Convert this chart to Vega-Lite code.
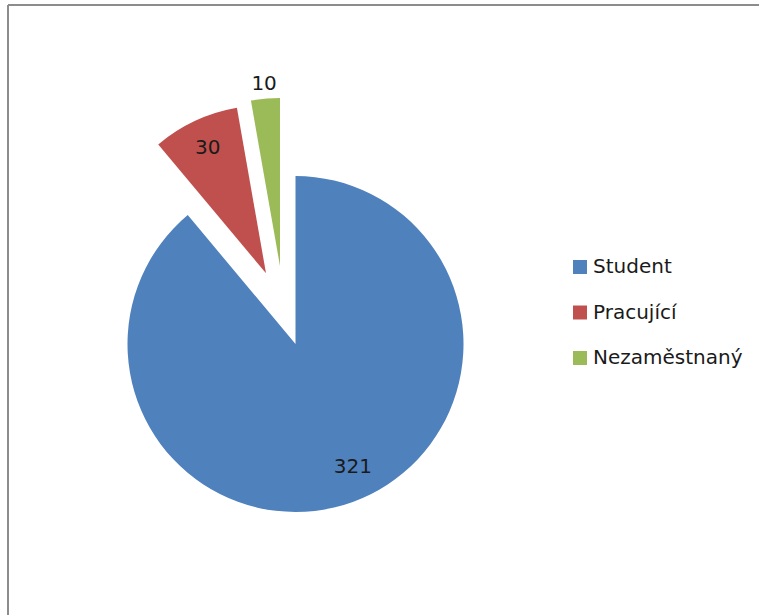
{
  "$schema": "https://vega.github.io/schema/vega-lite/v6.json",
  "width": 760,
  "height": 610,
  "autosize": {"type": "none"},
  "padding": {"left": 8, "top": 5, "right": -9, "bottom": 0},
  "background": "white",
  "view": {"stroke": "#8c8c8c", "strokeWidth": 2, "strokeDash": [760, 1370, 610, 0]},
  "config": {
    "font": "DejaVu Sans",
    "view": {"stroke": "#8c8c8c", "strokeWidth": 2, "strokeDash": [760, 1370, 610, 0]}
  },
  "data": {
    "values": [
      {"category": "Student", "value": 321},
      {"category": "Pracující", "value": 30},
      {"category": "Nezaměstnaný", "value": 10}
    ]
  },
  "encoding": {
    "theta": {"field": "value", "type": "quantitative", "stack": true},
    "order": {"field": "value", "type": "quantitative", "sort": "descending"},
    "color": {
      "field": "category",
      "type": "nominal",
      "scale": {
        "domain": ["Student", "Pracující", "Nezaměstnaný"],
        "range": ["#4F81BD", "#C0504D", "#9BBB59"]
      },
      "legend": {
        "title": null,
        "orient": "none",
        "legendX": 562,
        "legendY": 252,
        "padding": 0,
        "symbolType": "square",
        "symbolSize": 196,
        "symbolStrokeWidth": 0,
        "labelFont": "DejaVu Sans",
        "labelFontSize": 20,
        "labelColor": "#1a1a1a",
        "labelLimit": 300,
        "labelOffset": 3,
        "rowPadding": 25.5
      }
    }
  },
  "layer": [
    {
      "mark": {"type": "arc", "outerRadius": 168, "xOffset": -92.5, "yOffset": 34},
      "encoding": {"opacity": {"condition": {"test": "datum.category === 'Student'", "value": 1}, "value": 0}}
    },
    {
      "mark": {"type": "arc", "outerRadius": 168, "xOffset": -122, "yOffset": -36.7},
      "encoding": {"opacity": {"condition": {"test": "datum.category === 'Pracující'", "value": 1}, "value": 0}}
    },
    {
      "mark": {"type": "arc", "outerRadius": 168, "xOffset": -108, "yOffset": -44},
      "encoding": {"opacity": {"condition": {"test": "datum.category === 'Nezaměstnaný'", "value": 1}, "value": 0}}
    },
    {
      "mark": {"type": "text", "radius": 136, "xOffset": -92.5, "yOffset": 34, "dx": 11, "dy": -5, "fontSize": 20, "font": "DejaVu Sans", "align": "center", "baseline": "middle"},
      "encoding": {
        "text": {"field": "value", "type": "quantitative"},
        "color": {"value": "#1a1a1a"},
        "opacity": {"condition": {"test": "datum.category === 'Student'", "value": 1}, "value": 0}
      }
    },
    {
      "mark": {"type": "text", "radius": 138, "xOffset": -122, "yOffset": -36.7, "fontSize": 20, "font": "DejaVu Sans", "align": "center", "baseline": "middle"},
      "encoding": {
        "text": {"field": "value", "type": "quantitative"},
        "color": {"value": "#1a1a1a"},
        "opacity": {"condition": {"test": "datum.category === 'Pracující'", "value": 1}, "value": 0}
      }
    },
    {
      "mark": {"type": "text", "radius": 183, "xOffset": -108, "yOffset": -44, "fontSize": 20, "font": "DejaVu Sans", "align": "center", "baseline": "middle"},
      "encoding": {
        "text": {"field": "value", "type": "quantitative"},
        "color": {"value": "#1a1a1a"},
        "opacity": {"condition": {"test": "datum.category === 'Nezaměstnaný'", "value": 1}, "value": 0}
      }
    }
  ]
}
